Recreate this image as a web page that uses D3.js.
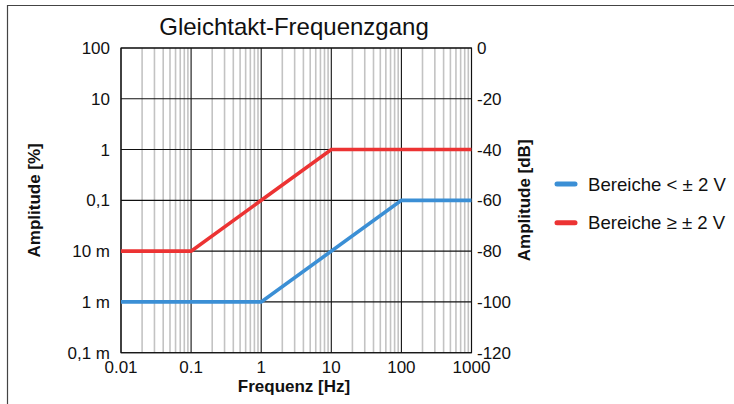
<!DOCTYPE html>
<html>
<head>
<meta charset="utf-8">
<script src="https://cdn.jsdelivr.net/npm/d3@7"></script>
<style>
  html, body { margin: 0; padding: 0; background: #fff; }
  svg { display: block; font-family: "Liberation Sans", Arial, sans-serif; }
</style>
</head>
<body>
<svg id="chart" width="734" height="404"></svg>
<script>
// Frequency breakpoints (Hz) and amplitude (%) for each range group
const freqLow = [0.01, 1, 100, 1000];
const ampLow = [0.001, 0.001, 0.1, 0.1];
const freqHigh = [0.01, 0.1, 10, 1000];
const ampHigh = [0.01, 0.01, 1, 1];

const xTicks = [0.01, 0.1, 1, 10, 100, 1000];
const xTickLabels = ["0.01", "0.1", "1", "10", "100", "1000"];
const yTicks = [100, 10, 1, 0.1, 0.01, 0.001, 0.0001];
const yTickLabels = ["100", "10", "1", "0,1", "10 m", "1 m", "0,1 m"];
const dbTickLabels = ["0", "-20", "-40", "-60", "-80", "-100", "-120"];

const seriesNames = ["Bereiche < \u00b1 2 V", "Bereiche \u2265 \u00b1 2 V"];
const seriesColors = ["#3b8fd5", "#ec3333"];

const svg = d3.select("#chart");
const plotLeft = 121, plotRight = 471.5, plotTop = 48, plotBottom = 352.7;

const x = d3.scaleLog().domain([0.01, 1000]).range([plotLeft, plotRight]);
const y = d3.scaleLog().domain([0.0001, 100]).range([plotBottom, plotTop]);

// outer frame (top and left edges)
svg.append("path")
  .attr("d", `M7.5,404 V5.5 H734`)
  .attr("fill", "none").attr("stroke", "#444").attr("stroke-width", 1.2);

// minor vertical grid
const minor = [];
for (let e = -2; e < 3; e++) for (let m = 2; m <= 9; m++) minor.push(m * Math.pow(10, e));
svg.append("g").selectAll("line").data(minor).join("line")
  .attr("x1", d => x(d)).attr("x2", d => x(d))
  .attr("y1", plotTop).attr("y2", plotBottom)
  .attr("stroke", "#c3c3c3").attr("stroke-width", 1.6);

// major vertical grid
svg.append("g").selectAll("line").data(xTicks).join("line")
  .attr("x1", d => x(d)).attr("x2", d => x(d))
  .attr("y1", plotTop).attr("y2", plotBottom)
  .attr("stroke", "#111").attr("stroke-width", 1.1);

// major horizontal grid
svg.append("g").selectAll("line").data(yTicks).join("line")
  .attr("x1", plotLeft).attr("x2", plotRight)
  .attr("y1", d => y(d)).attr("y2", d => y(d))
  .attr("stroke", "#111").attr("stroke-width", 1.1);

// plot frame
svg.append("rect").attr("x", plotLeft).attr("y", plotTop)
  .attr("width", plotRight - plotLeft).attr("height", plotBottom - plotTop)
  .attr("fill", "none").attr("stroke", "#111").attr("stroke-width", 1.1);

// series lines
const line = d3.line().x(d => x(d[0])).y(d => y(d[1]));
const series = [d3.zip(freqLow, ampLow), d3.zip(freqHigh, ampHigh)];
svg.append("g").selectAll("path").data(series).join("path")
  .attr("d", line)
  .attr("fill", "none")
  .attr("stroke", (d, i) => seriesColors[i])
  .attr("stroke-width", 3.6)
  .attr("stroke-linejoin", "miter");

// left axis labels
svg.append("g").selectAll("text").data(yTicks).join("text")
  .attr("x", 110).attr("y", d => y(d)).attr("dy", "0.36em")
  .attr("text-anchor", "end").attr("font-size", 17).attr("fill", "#111")
  .text((d, i) => yTickLabels[i]);

// right axis labels (dB)
svg.append("g").selectAll("text").data(yTicks).join("text")
  .attr("x", 477).attr("y", d => y(d)).attr("dy", "0.36em")
  .attr("text-anchor", "start").attr("font-size", 17).attr("fill", "#111")
  .text((d, i) => dbTickLabels[i]);

// x axis labels
svg.append("g").selectAll("text").data(xTicks).join("text")
  .attr("x", d => x(d)).attr("y", 372.5)
  .attr("text-anchor", "middle").attr("font-size", 17).attr("fill", "#111")
  .text((d, i) => xTickLabels[i]);

// titles
svg.append("text").attr("x", 294).attr("y", 35)
  .attr("text-anchor", "middle").attr("font-size", 24).attr("fill", "#111")
  .text("Gleichtakt-Frequenzgang");
svg.append("text").attr("x", 294).attr("y", 392)
  .attr("text-anchor", "middle").attr("font-size", 17).attr("font-weight", "bold").attr("fill", "#111")
  .text("Frequenz [Hz]");
svg.append("text").attr("transform", `translate(39.5,${(plotTop + plotBottom) / 2}) rotate(-90)`)
  .attr("text-anchor", "middle").attr("font-size", 17).attr("font-weight", "bold").attr("fill", "#111")
  .text("Amplitude [%]");
svg.append("text").attr("transform", `translate(529.5,${(plotTop + plotBottom) / 2}) rotate(-90)`)
  .attr("text-anchor", "middle").attr("font-size", 17).attr("font-weight", "bold").attr("fill", "#111")
  .text("Amplitude [dB]");

// legend
const legend = svg.append("g").selectAll("g").data(seriesNames).join("g")
  .attr("transform", (d, i) => `translate(0,${184 + i * 38.7})`);
legend.append("line").attr("x1", 557).attr("x2", 575).attr("y1", 0).attr("y2", 0)
  .attr("stroke", (d, i) => seriesColors[i]).attr("stroke-width", 5).attr("stroke-linecap", "round");
legend.append("text").attr("x", 588).attr("y", 0).attr("dy", "0.36em")
  .attr("font-size", 18.6).attr("fill", "#111").text(d => d);
</script>
</body>
</html>
